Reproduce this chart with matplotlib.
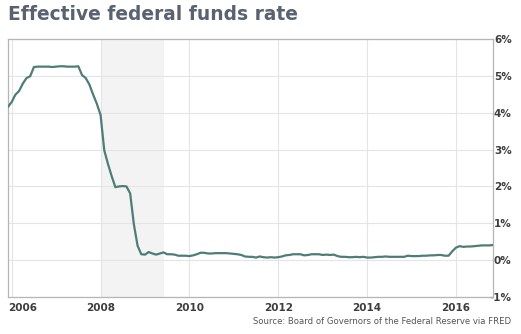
import numpy as np
import matplotlib
matplotlib.use("Agg")
import matplotlib.pyplot as plt
import matplotlib.transforms as mtransforms

# monthly effective fed funds rate, Dec 2005 .. Nov 2016 (percent)
start_year = 2005
start_month = 12
rate = [4.16,
        4.29, 4.49, 4.59, 4.79, 4.94, 4.99, 5.24, 5.25, 5.25, 5.25, 5.25, 5.24,
        5.25, 5.26, 5.26, 5.25, 5.25, 5.25, 5.26, 5.02, 4.94, 4.76, 4.49, 4.24,
        3.94, 2.98, 2.61, 2.28, 1.98, 2.00, 2.01, 2.00, 1.81, 0.97, 0.39, 0.16,
        0.15, 0.22, 0.18, 0.15, 0.18, 0.21, 0.16, 0.16, 0.15, 0.12, 0.12, 0.12,
        0.11, 0.13, 0.16, 0.20, 0.20, 0.18, 0.18, 0.19, 0.19, 0.19, 0.19, 0.18,
        0.17, 0.16, 0.14, 0.10, 0.09, 0.09, 0.07, 0.10, 0.08, 0.07, 0.08, 0.07,
        0.08, 0.10, 0.13, 0.14, 0.16, 0.16, 0.16, 0.13, 0.14, 0.16, 0.16, 0.16,
        0.14, 0.15, 0.14, 0.15, 0.11, 0.09, 0.09, 0.08, 0.08, 0.09, 0.08, 0.09,
        0.07, 0.07, 0.08, 0.09, 0.09, 0.10, 0.09, 0.09, 0.09, 0.09, 0.09, 0.12,
        0.11, 0.11, 0.11, 0.12, 0.12, 0.13, 0.13, 0.14, 0.14, 0.12, 0.12, 0.24,
        0.34, 0.38, 0.36, 0.37, 0.37, 0.38, 0.39, 0.40, 0.40, 0.40, 0.41]
recession = (2008.0, 2009.42)
year_ticks = [2006, 2008, 2010, 2012, 2014, 2016]
pct_ticks = [-1, 0, 1, 2, 3, 4, 5, 6]

t = start_year + (start_month - 1) / 12 + np.arange(len(rate)) / 12

fig = plt.figure(figsize=(5.21, 3.34), dpi=100)
ax = fig.add_axes([8/521, 1-297/334, 485/521, 258/334])

ax.axvspan(recession[0], recession[1], color='#f3f3f3', lw=0, zorder=0)
ax.plot(t, rate, color='#4e7d76', lw=1.6, zorder=3)

ax.set_xlim(t[0], t[-1])
ax.set_ylim(-1, 6)
ax.set_xticks(year_ticks)
ax.set_yticks(pct_ticks)
ax.set_yticklabels(["%d%%" % p for p in pct_ticks])
ax.grid(True, color='#e4e4e4', lw=0.8, zorder=1)
ax.set_axisbelow(True)
for s in ax.spines.values():
    s.set_color('#b5b5b5')
    s.set_linewidth(0.9)

ax.yaxis.tick_right()
ax.tick_params(axis='both', length=0, labelsize=7.5, labelcolor='#3d3d3d')
ax.tick_params(axis='x', pad=4)
ax.tick_params(axis='y', pad=13.5)
for lab in ax.get_yticklabels():
    lab.set_fontweight('bold')
    lab.set_horizontalalignment('right')
for lab in ax.get_xticklabels():
    lab.set_fontweight('bold')
# first year label sits against the left edge
first = ax.get_xticklabels()[0]
first.set_horizontalalignment('left')
first.set_transform(first.get_transform() +
                    mtransforms.ScaledTranslation(-4/100, 0, fig.dpi_scale_trans))

fig.text(8/521, 1-15/334, "Effective federal funds rate", fontsize=13.4,
         fontweight='heavy', color='#5a6170', va='center', ha='left')
fig.text(511/521, 1-322/334, "Source: Board of Governors of the Federal Reserve via FRED",
         fontsize=6.1, color='#555555', va='center', ha='right')

fig.savefig("out.png", dpi=100)
